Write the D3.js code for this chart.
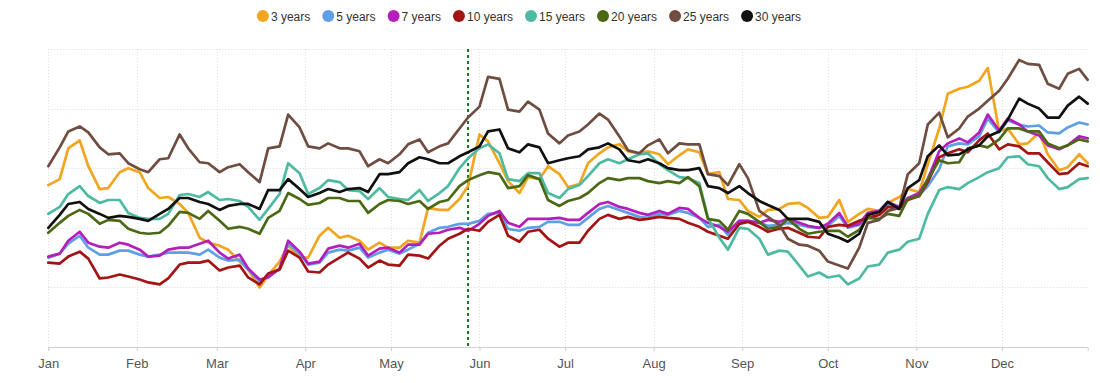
<!DOCTYPE html>
<html>
<head>
<meta charset="utf-8">
<script src="https://cdn.jsdelivr.net/npm/d3@7"></script>
<style>
  html, body { margin: 0; padding: 0; background: #fff; }
  svg { display: block; font-family: "Liberation Sans", Arial, sans-serif; }
</style>
</head>
<body>
<svg id="chart" width="1100" height="383"></svg>
<script>
// ---------- data ----------
const yearStart = "2021-01-01";
const yearEnd = "2021-12-31";
const markerDate = "2021-05-28";
const dayOffsets = [0,4,7,11,14,18,21,25,28,32,35,39,42,46,49,53,56,60,63,67,70,74,77,81,84,88,91,95,98,102,105,109,112,116,119,123,126,130,133,137,140,144,147,151,154,158,161,165,168,172,175,179,182,186,189,193,196,200,203,207,210,214,217,221,224,228,231,235,238,242,245,249,252,256,259,263,266,270,273,277,280,284,287,291,294,298,301,305,308,312,315,319,322,326,329,333,336,340,343,347,350,354,357,361,364];
const seriesNames = ["3 years","5 years","7 years","10 years","15 years","20 years","25 years","30 years"];
const y3 = [163,169,200,208,182,159,160,176,180,176,160,150,151,144,135, 110,105,102,98,86,78,60,72,86,102,90,90,112,120,110, 112,107,98,105,100,100,107,105,140,138,138,149,162,214,207, 185,167,155,171,169,182,174,161,164,185,195,201,204,197,195, 197,194,184,193,199,196,174,176,149,148,137,131,138,139,144, 145,140,130,131,148,126,134,139,137,145,151,159,156,184,220, 255,260,262,268,281,217,220,204,205,216,194,178,181,194,185];
const y5 = [90,94,104,112,100,93,93,97,97,93,91,93,95,95,95, 93,98,90,87,88,78,66,72,78,104,94,83,85,95,98, 97,100,90,95,98,94,98,104,115,120,121,124,124,127,134, 135,119,117,120,121,126,126,123,123,130,139,142,138,135,131, 130,134,133,137,135,130,121,123,113,127,127,125,122,123,125, 123,121,120,122,132,120,123,134,136,144,140,149,153,162,179, 202,205,204,212,230,216,228,224,222,223,216,215,221,226,224];
const y7 = [91,94,107,116,105,101,100,105,103,98,91,92,98,100,100, 104,107,95,89,93,79,68,70,79,107,96,84,86,99,102, 100,104,92,99,100,95,103,103,114,115,118,120,117,124,132, 137,125,121,129,129,129,130,128,128,135,144,146,141,139,135, 133,137,134,140,139,130,125,121,116,127,127,125,128,126,129, 125,122,120,124,135,121,124,135,137,146,141,150,155,169,197, 205,210,206,216,234,218,230,224,217,213,203,199,203,212,210];
const y10 = [85,84,91,96,89,69,70,73,71,68,65,63,69,83,85, 85,87,77,80,82,70,63,74,78,97,90,76,75,83,90, 95,89,80,87,83,82,93,92,89,102,109,114,119,117,126, 133,112,106,116,118,109,101,105,105,117,129,133,129,131,128, 129,131,130,129,125,121,116,112,109,124,126,121,116,119,120, 115,111,110,121,123,122,127,130,133,141,139,148,152,166,191, 195,199,196,208,215,199,204,202,195,195,186,174,175,185,182];
const y15 = [134,141,154,162,152,145,148,148,135,130,129,129,134,153,154, 151,156,148,149,147,141,128,139,154,185,175,154,160,168,166, 158,157,149,160,151,149,148,158,147,155,162,180,190,200,204, 195,169,167,175,175,155,150,159,163,172,185,189,185,189,194, 195,184,178,171,170,165,130,110,98,120,119,109,93,97,96, 82,71,75,70,72,63,69,81,83,95,98,106,109,134,158, 161,159,165,171,176,180,191,192,184,182,170,159,161,169,170];
const y20 = [115,125,132,138,134,124,128,127,119,115,114,115,122,136,135, 129,137,127,119,121,119,114,130,137,155,149,143,145,150,150, 147,147,135,144,148,147,144,147,139,146,148,162,168,173,176, 174,160,162,173,169,148,142,147,150,155,165,170,168,170,170, 167,165,167,165,171,162,129,127,118,137,134,126,119,121,129, 119,114,116,117,117,111,118,130,129,134,132,149,152,169,188, 185,186,200,203,201,209,220,220,217,217,205,200,203,209,207];
const y25 = [182,201,217,222,216,201,194,195,185,179,176,189,190,214,200, 186,185,176,181,184,176,166,200,202,234,221,202,200,205,200, 200,197,182,189,185,194,204,209,196,202,205,220,231,242,272, 270,239,237,247,239,215,205,213,217,224,235,229,212,198,195, 203,209,195,205,204,204,174,172,163,184,170,137,131,123,109, 103,102,97,86,82,79,100,125,128,137,140,174,185,224,236, 211,220,232,240,248,258,270,289,285,284,265,260,275,280,269];
const y30 = [120,133,144,146,139,134,130,132,131,129,127,134,139,150,150, 146,144,138,142,144,144,139,158,158,169,159,151,155,159,156, 159,160,156,174,174,176,185,191,189,185,185,192,196,202,217, 219,200,196,204,201,185,188,190,192,199,201,205,199,188,186, 189,185,180,178,178,180,162,160,155,162,155,147,143,138,129, 129,129,126,114,110,106,114,133,136,146,139,160,168,192,203, 193,194,199,203,212,217,229,250,245,240,231,231,243,252,245];
const gridValues = [0,60,120,180,240,300];

(function () {
// ---------- styles ----------
const colors = ["#f2a51f","#5e9fe6","#b41fbb","#a31414","#4fbaa2","#4b6915","#6f4d40","#111111"];

const allValues = [y3,y5,y7,y10,y15,y20,y25,y30];
const parse = d3.timeParse("%Y-%m-%d");
const t0 = parse(yearStart), t1 = parse(yearEnd);
const dates = dayOffsets.map(d => d3.timeDay.offset(t0, d));

const svg = d3.select("#chart");
const pLeft = 48.3, pRight = 1087.7, pTop = 49, pBottom = 347;

const x = d3.scaleTime().domain([t0, t1]).range([pLeft, pRight]);
const y = d3.scaleLinear().domain([0, 300]).range([pBottom, pTop]);

// horizontal grid
svg.append("g").selectAll("line").data(gridValues.filter(v => v > 0)).join("line")
  .attr("x1", pLeft).attr("x2", pRight)
  .attr("y1", d => Math.round(y(d)) + 0.5).attr("y2", d => Math.round(y(d)) + 0.5)
  .attr("stroke", "#d9d9d9").attr("stroke-width", 1).attr("stroke-dasharray", "1,2");

// vertical grid at month starts
const months = d3.timeMonth.range(t0, d3.timeDay.offset(t1, 1));
svg.append("g").selectAll("line").data(months).join("line")
  .attr("x1", d => Math.round(x(d)) + 0.5).attr("x2", d => Math.round(x(d)) + 0.5)
  .attr("y1", pTop).attr("y2", pBottom)
  .attr("stroke", "#e0e0e0").attr("stroke-width", 1).attr("stroke-dasharray", "1,2");

// x axis
const xAxis = d3.axisBottom(x).tickValues(months).tickFormat(d3.timeFormat("%b")).tickSize(4).tickPadding(8);
const gx = svg.append("g").attr("transform", `translate(0,${pBottom})`).call(xAxis);
gx.select(".domain").attr("stroke", "#d0d0d0");
gx.selectAll(".tick line").attr("stroke", "#d0d0d0");
gx.selectAll(".tick text").attr("fill", "#555").style("font-size", "13px")
  .style("font-family", "'Liberation Sans', Arial, sans-serif");

// marker line
const md = parse(markerDate);
svg.append("line")
  .attr("x1", x(md)).attr("x2", x(md)).attr("y1", pTop).attr("y2", pBottom)
  .attr("stroke", "#16731a").attr("stroke-width", 2).attr("stroke-dasharray", "3,3");

// series lines
const line = d3.line().x((d, i) => x(dates[i])).y(d => y(d));
svg.append("g").selectAll("path").data(allValues).join("path")
  .attr("d", d => line(d))
  .attr("fill", "none")
  .attr("stroke", (d, i) => colors[i])
  .attr("stroke-width", 2.7)
  .attr("stroke-linejoin", "round")
  .attr("stroke-linecap", "round");

// legend
const lg = svg.append("g");
let cx = 0;
seriesNames.forEach((name, i) => {
  const g = lg.append("g");
  g.append("circle").attr("cx", 6).attr("cy", 0).attr("r", 6).attr("fill", colors[i]);
  const t = g.append("text").attr("x", 14).attr("y", 4.5).text(name)
    .attr("fill", "#333").style("font-size", "12px");
  const w = 14 + t.node().getComputedTextLength();
  g.attr("transform", `translate(${cx},16)`);
  cx += w + 12;
});
const total = cx - 12;
lg.attr("transform", `translate(${529 - total / 2},0)`);
})();
</script>
</body>
</html>
